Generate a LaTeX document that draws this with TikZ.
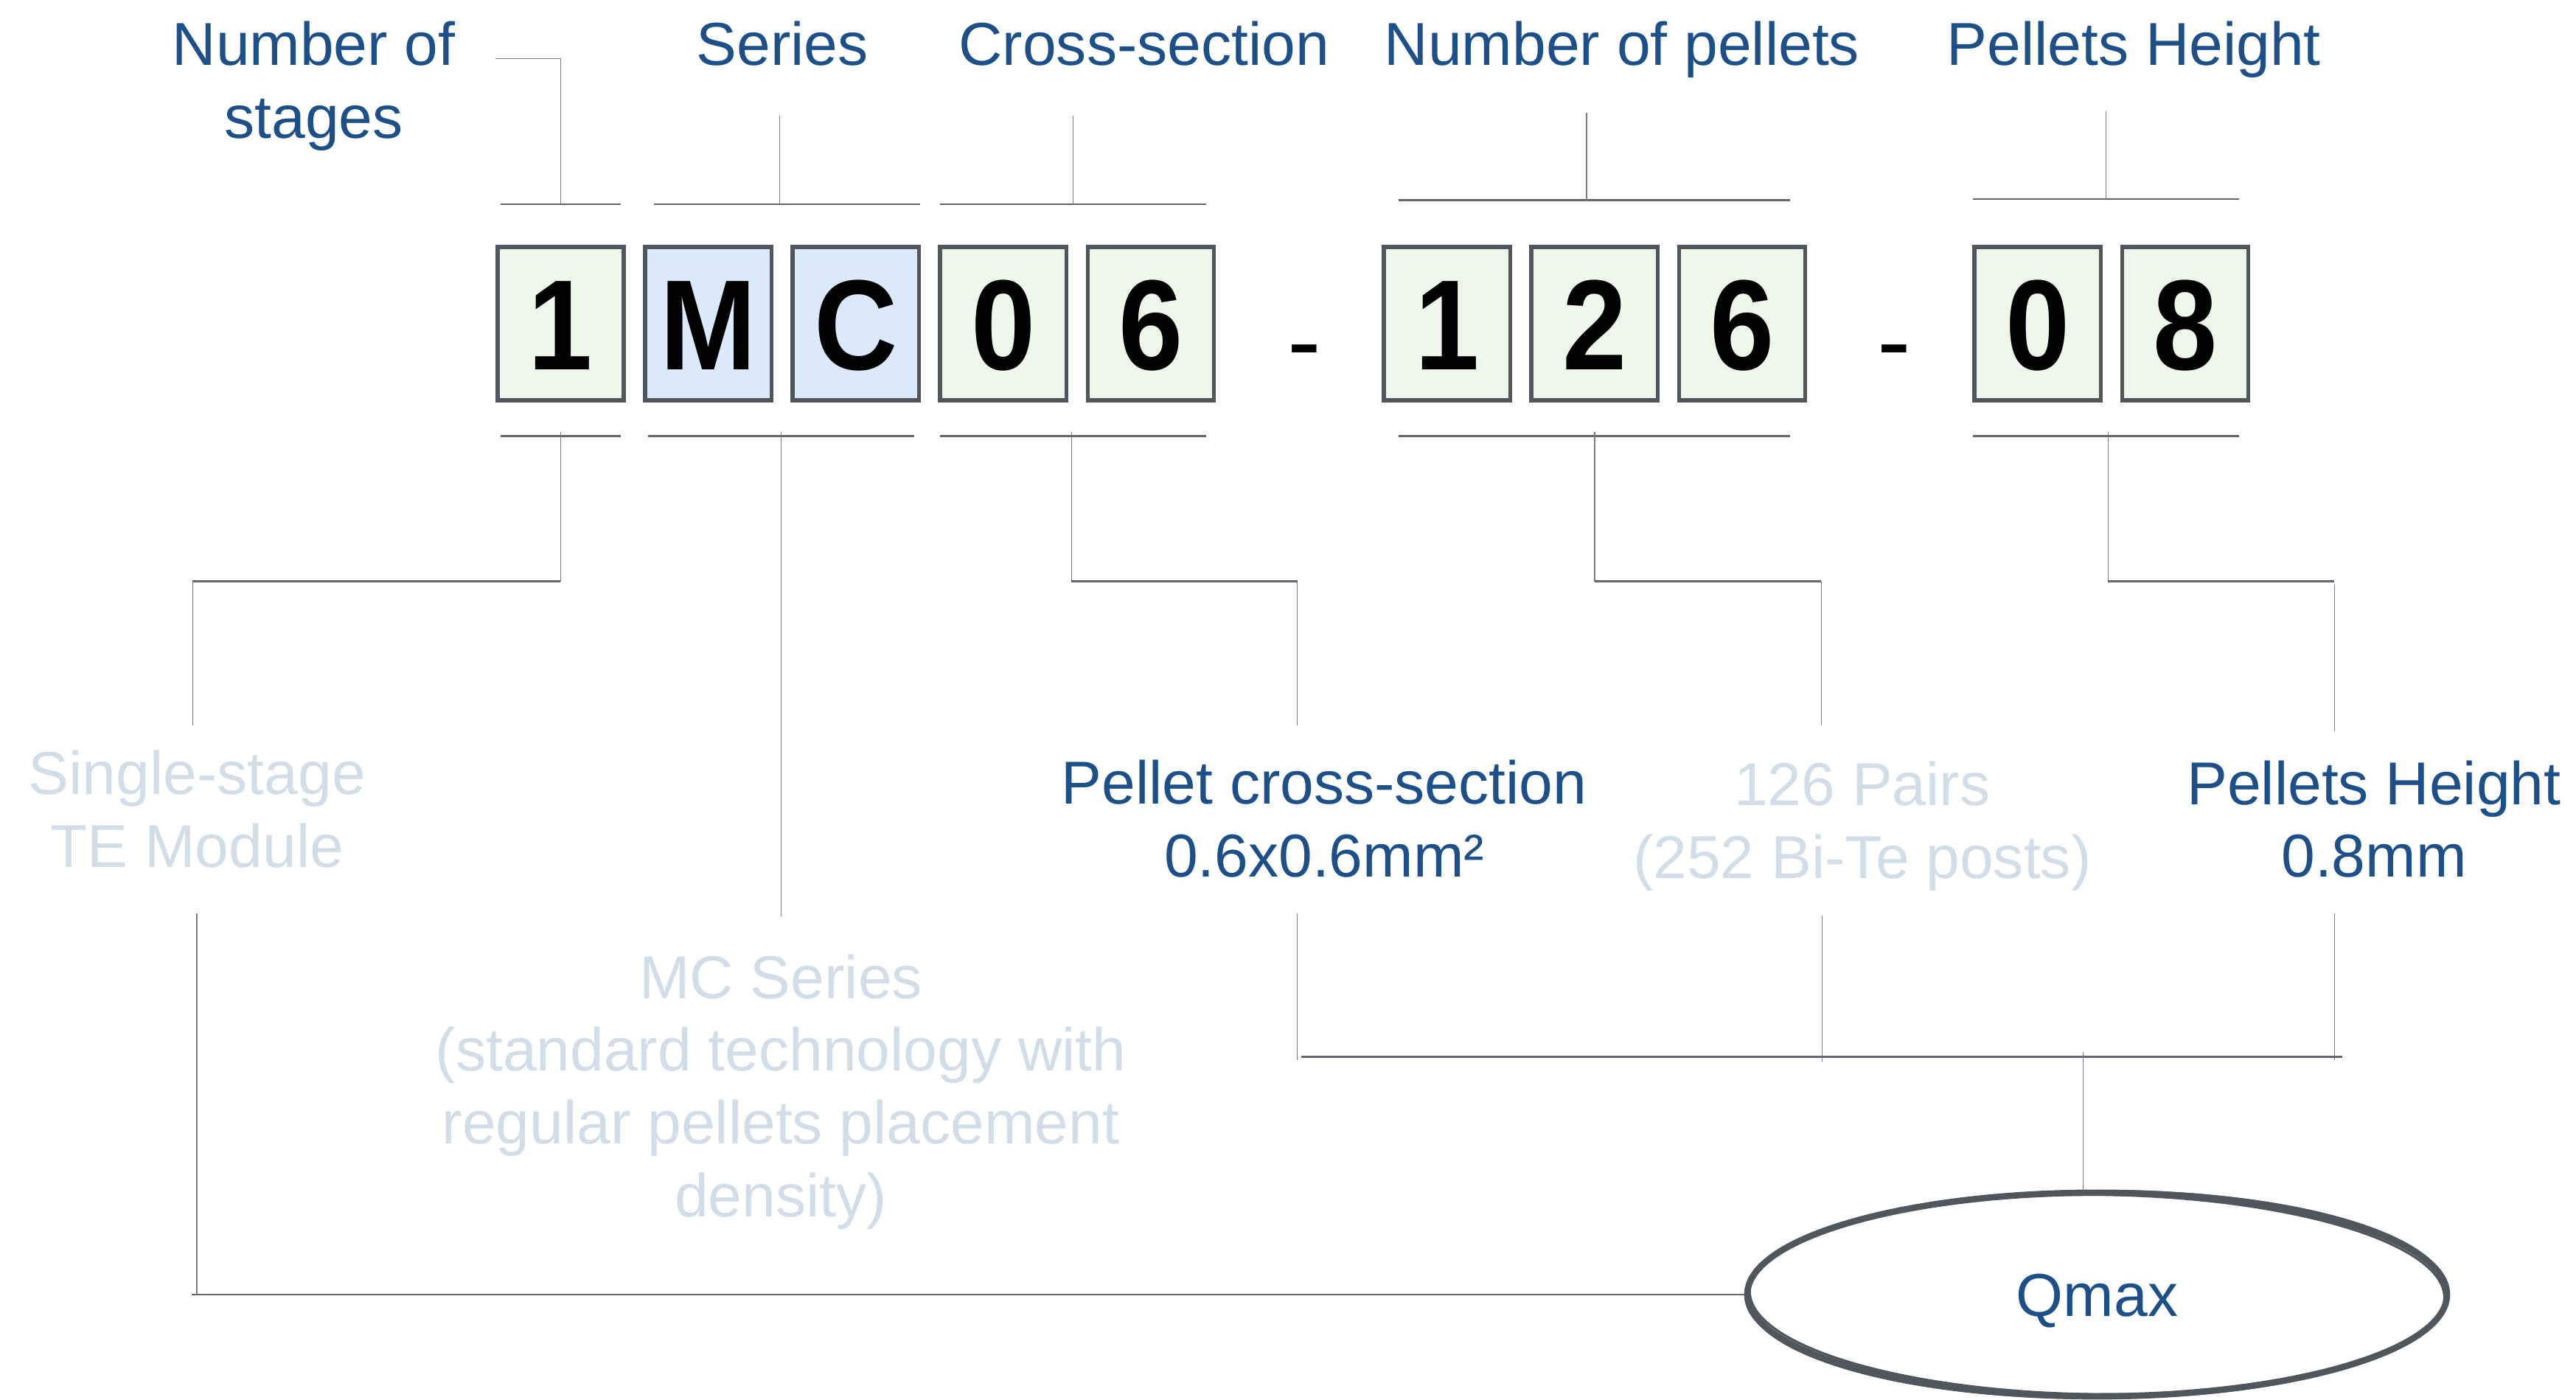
\documentclass[tikz,border=0pt]{standalone}
\usepackage{fontspec}
\setmainfont{Liberation Sans}
\usetikzlibrary{shapes.geometric}
\definecolor{ink}{HTML}{1D4F88}
\definecolor{pale}{HTML}{D3DDE8}
\definecolor{frame}{HTML}{50565C}
\definecolor{rulecol}{HTML}{62676D}
\definecolor{wirecol}{HTML}{7A7A7A}
\definecolor{greenfill}{HTML}{EFF6EC}
\definecolor{bluefill}{HTML}{DBEAFB}
% condensed bold glyph for the code boxes
\newcommand{\codechar}[1]{\scalebox{0.9}[1]{#1}}

\begin{document}
\begin{tikzpicture}[x=0.02cm,y=-0.02cm,
  lbl/.style={font=\fontsize{21}{25.2}\selectfont, text=ink, align=center, anchor=base, inner sep=0pt},
  faint/.style={lbl, text=pale},
  digit/.style={draw=frame, line width=1.4pt, fill=greenfill, minimum width=1.538cm, minimum height=1.87cm,
    inner sep=0pt, font=\fontsize{44.5}{45}\bfseries\selectfont, text height=31.9pt, text depth=0pt},
  seriesbox/.style={digit, fill=bluefill},
  sep/.style={font=\fontsize{35}{36}\selectfont, anchor=base, inner sep=0pt},
  bracket/.style={draw=rulecol, line width=0.7pt},
  wire/.style={draw=wirecol, line width=0.3pt},
]
\useasboundingbox (0,0) rectangle (1568,852);

% code boxes
\node[digit]     (b1)  at (341.3,197)  {\codechar{1}};
\node[seriesbox] (b2)  at (431.1,197)  {\codechar{M}};
\node[seriesbox] (b3)  at (520.9,197)  {\codechar{C}};
\node[digit]     (b4)  at (610.7,197)  {\codechar{0}};
\node[digit]     (b5)  at (700.5,197)  {\codechar{6}};
\node[sep]       (d1)  at (794,228.8)  {-};
\node[digit]     (b6)  at (880.8,197)  {\codechar{1}};
\node[digit]     (b7)  at (970.6,197)  {\codechar{2}};
\node[digit]     (b8)  at (1060.4,197) {\codechar{6}};
\node[sep]       (d2)  at (1153,228.8) {-};
\node[digit]     (b9)  at (1240.3,197) {\codechar{0}};
\node[digit]     (b10) at (1330.1,197) {\codechar{8}};

% field names above (base = baseline of the last line)
\node[lbl] (lStages)  at (191,84)      {Number of\\stages};
\node[lbl] (lSeries)  at (476.2,39.6)  {Series};
\node[lbl] (lCross)   at (696.4,39.6)  {Cross-section};
\node[lbl] (lPellets) at (987.3,39.6)  {Number of pellets};
\node[lbl] (lHeight)  at (1298.8,39.6) {Pellets Height};

% field meanings below
\node[faint] (tStage)  at (120,527.9)    {Single-stage\\TE Module};
\node[faint] (tSeries) at (475.3,740.6)  {MC Series\\(standard technology with\\regular pellets placement\\density)};
\node[lbl]   (tCross)  at (806,533.7)    {Pellet cross-section\\0.6x0.6mm²};
\node[faint] (tPairs)  at (1133.5,534.6) {126 Pairs\\(252 Bi-Te posts)};
\node[lbl]   (tHeight) at (1445,534)     {Pellets Height\\0.8mm};

% result, with a brushed outline
\node[draw=frame, line width=2.2pt, ellipse, minimum width=8.52cm, minimum height=2.48cm, inner sep=0pt,
  font=\fontsize{21}{25.2}\selectfont, text=ink, text height=15pt, text depth=0pt] (q) at (1276.5,788) {Qmax};
\draw[frame, line width=0.7pt, rotate around={0.5:(q.center)}] (q.center) ellipse [x radius=4.255cm, y radius=1.26cm];
\draw[frame, line width=0.8pt, rotate around={-0.6:(q.center)}] (q.center) ellipse [x radius=4.23cm, y radius=1.215cm];
\draw[frame, line width=0.5pt, opacity=0.7, rotate around={-0.3:(q.center)}] (q.center) ellipse [x radius=4.275cm, y radius=1.25cm];
\draw[frame, line width=1.2pt] (q.center) ++(-3.2cm,-0.8cm) arc[start angle=220, end angle=320, x radius=4.24cm, y radius=1.26cm];

% rules above the boxes
\draw[bracket] (304.8,124.3) -- (377.9,124.3);
\draw[bracket] (398.1,124.3) -- (560.1,124.3);
\draw[bracket] (572.3,124.3) -- (734.3,124.3);
\draw[bracket] (851.4,122)   -- (1089.8,122);
\draw[bracket] (1201.1,121.2) -- (1363.1,121.2);
% rules below the boxes
\draw[bracket] (304.8,265.3) -- (377.9,265.3);
\draw[bracket] (394.5,265.3) -- (556.5,265.3);
\draw[bracket] (572.3,265.3) -- (734.3,265.3);
\draw[bracket] (851.4,265.3) -- (1089.8,265.3);
\draw[bracket] (1201.1,265.3) -- (1363.1,265.3);

% leaders from the field names
\coordinate (uS) at (341.3,124.3);
\coordinate (uM) at (474.4,124.3);
\coordinate (uC) at (653,124.3);
\coordinate (uP) at (965.7,122);
\coordinate (uH) at (1282,121.2);
\draw[wire] (301.6,35.5) -| (uS);
\draw[wire] (474.4,70.3) -- (uM);
\draw[wire] (653,70.4) -- (uC);
\draw[wire] (965.7,68.7) -- (uP);
\draw[wire] (1282,67.8) -- (uH);

% leaders to the meanings
\coordinate (kS) at (341.1,354);
\coordinate (kS2) at (117.2,354);
\draw[wire] (341.1,263) -- (kS);
\draw[bracket] (kS) -- (kS2);
\draw[wire] (kS2) -- (117.2,441.7);

\draw[wire] (475.3,263) -- (475.3,558);

\coordinate (kC) at (652.1,354);
\coordinate (kC2) at (789.6,354);
\draw[wire] (652.1,263) -- (kC);
\draw[bracket] (kC) -- (kC2);
\draw[wire] (kC2) -- (789.6,441.6);

\coordinate (kP) at (970.7,354);
\coordinate (kP2) at (1108.5,354);
\draw[wire] (970.7,263) -- (kP);
\draw[bracket] (kP) -- (kP2);
\draw[wire] (kP2) -- (1108.5,441.6);

\coordinate (kH) at (1283.2,354);
\coordinate (kH2) at (1421,354);
\draw[wire] (1283.2,263) -- (kH);
\draw[bracket] (kH) -- (kH2);
\draw[wire] (1421,356) -- (1421,445);

% collection into the result
\coordinate (jC) at (789.7,645.5);
\coordinate (jP) at (1109,646.3);
\coordinate (jH) at (1420.9,645.5);
\draw[wire] (789.7,556) -- (jC);
\draw[wire] (1109,557.4) -- (jP);
\draw[wire] (1420.9,556) -- (jH);
\draw[bracket] (792.2,643.3) -- (1425.5,643.3);
\coordinate (jQ) at (1267.8,640.5);
\draw[wire] (jQ) -- (jQ |- q.north);

\coordinate (jS) at (119.8,555.9);
\draw[wire] (jS) -- (119.8,788);
\draw[bracket] (116.7,788) -- (q.west);
\end{tikzpicture}
\end{document}
